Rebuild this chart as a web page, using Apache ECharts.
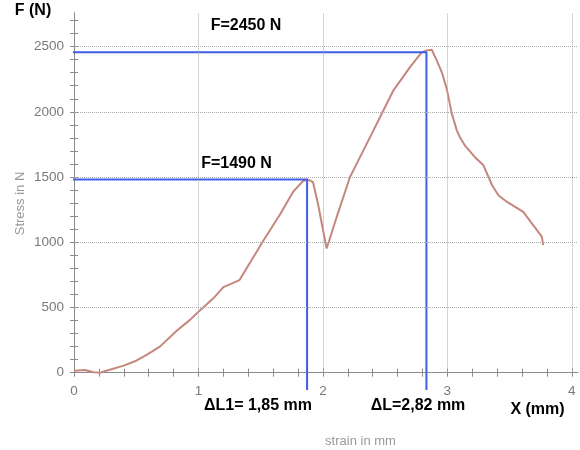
<!DOCTYPE html>
<html>
<head>
<meta charset="utf-8">
<script src="https://cdn.jsdelivr.net/npm/echarts@6/dist/echarts.min.js"></script>
<style>html,body{margin:0;padding:0;background:#fff;}#c{width:580px;height:450px;}</style>
</head>
<body>
<div id="c"></div>
<script>
// ---- data ----
var strain = [0, 0.09, 0.155, 0.21, 0.26, 0.40, 0.50, 0.58, 0.69, 0.83, 0.93, 1.0, 1.12, 1.2, 1.33, 1.52, 1.66, 1.76, 1.84, 1.88, 1.92, 1.96, 2.03, 2.12, 2.218, 2.272, 2.353, 2.46, 2.567, 2.70, 2.795, 2.835, 2.875, 2.915, 2.955, 2.995, 3.036, 3.076, 3.10, 3.14, 3.22, 3.29, 3.36, 3.41, 3.48, 3.61, 3.67, 3.72, 3.76, 3.77];
var stress = [15, 21, 3, 0, 15, 54, 92, 135, 200, 325, 403, 467, 570, 656, 710, 1010, 1220, 1386, 1470, 1481, 1462, 1297, 952, 1220, 1500, 1603, 1756, 1960, 2165, 2343, 2458, 2471, 2476, 2395, 2305, 2178, 1986, 1858, 1807, 1743, 1654, 1590, 1437, 1361, 1309, 1233, 1156, 1093, 1041, 978];
var xTicks = [0, 1, 2, 3, 4];
var yTicks = [0, 500, 1000, 1500, 2000, 2500];
var peakForce = [2457, 1481];
var peakStrain = [2.832, 1.873];
var guideStart = -0.067;
var guideEnd = -132;

var FONT = 'Liberation Sans, Arial, Helvetica, sans-serif';
var chart = echarts.init(document.getElementById('c'), null, {renderer: 'canvas'});

function pairs(xs, ys) { return xs.map(function (x, i) { return [x, ys[i]]; }); }

var axisCol = '#8a8a8a';
function xAx(primary) {
  return {
    type: 'value', min: 0, max: 4.05, interval: 1, position: 'bottom',
    axisLine: {show: primary, onZero: false, lineStyle: {color: axisCol, width: 1}},
    axisTick: {show: true, inside: !primary, length: 4, customValues: xTicks, lineStyle: {color: axisCol}},
    minorTick: {show: true, splitNumber: 5, length: 4, lineStyle: {color: axisCol}},
    axisLabel: {show: primary, customValues: xTicks, margin: 12, color: '#7a7a7a', fontSize: 13.5, fontFamily: FONT,
      formatter: function (v) { return String(v); }},
    splitLine: {show: false}
  };
}
function yAx(primary) {
  return {
    type: 'value', min: 0, max: 2760, interval: 500, position: 'left',
    axisLine: {show: primary, onZero: false, lineStyle: {color: axisCol, width: 1}},
    axisTick: {show: true, inside: !primary, length: 4, customValues: yTicks, lineStyle: {color: axisCol}},
    minorTick: {show: true, splitNumber: 5, length: 4, lineStyle: {color: axisCol}},
    axisLabel: {show: primary, customValues: yTicks, margin: 10, color: '#7a7a7a', fontSize: 13.5, fontFamily: FONT,
      formatter: function (v) { return String(v); }},
    splitLine: {show: false}
  };
}

var gridLines = xTicks.filter(function (v) { return v > 0; }).map(function (v) { return {xAxis: v}; })
  .concat(yTicks.filter(function (v) { return v > 0; }).map(function (v) { return {yAxis: v}; }));

var txt = function (text, x, y, opts) {
  opts = opts || {};
  return {
    type: 'text', x: x, y: y, rotation: opts.rotation || 0, z: 100,
    style: {
      text: text, fill: opts.fill || '#000',
      fontSize: opts.size || 16, fontWeight: opts.weight || 'bold', fontFamily: FONT,
      align: 'center', verticalAlign: 'middle'
    }
  };
};

chart.setOption({
  animation: false,
  backgroundColor: '#fff',
  grid: {left: 74, right: 2, top: 12.7, bottom: 77.3, containLabel: false},
  xAxis: [xAx(true), xAx(false)],
  yAxis: [yAx(true), yAx(false)],
  series: [
    {
      type: 'line', data: [], silent: true, z: 1,
      markLine: {
        silent: true, symbol: ['none', 'none'], label: {show: false},
        lineStyle: {color: '#aaaaaa', type: 'dotted', width: 1},
        emphasis: {disabled: true},
        data: gridLines
      }
    },
    {
      type: 'line', data: pairs(strain, stress), showSymbol: false, symbol: 'none', z: 3,
      lineStyle: {color: '#c4877c', width: 2}, silent: true
    },
    {
      type: 'line', clip: false, showSymbol: false, symbol: 'none', z: 4, silent: true,
      lineStyle: {color: '#3f5ee8', width: 2},
      data: [[guideStart, peakForce[0]], [peakStrain[0], peakForce[0]], [peakStrain[0], guideEnd]]
    },
    {
      type: 'line', clip: false, showSymbol: false, symbol: 'none', z: 4, silent: true,
      lineStyle: {color: '#3f5ee8', width: 2},
      data: [[guideStart, peakForce[1]], [peakStrain[1], peakForce[1]], [peakStrain[1], guideEnd]]
    }
  ],
  graphic: [
    txt('F (N)', 33, 11, {size: 16}),
    txt('F=2450 N', 246, 25.5, {size: 16}),
    txt('F=1490 N', 236.5, 163.5, {size: 16}),
    txt('\u0394L1= 1,85 mm', 258, 406, {size: 16}),
    txt('\u0394L=2,82 mm', 418, 406, {size: 16}),
    txt('X (mm)', 537.5, 410, {size: 16}),
    txt('strain in mm', 360.5, 441, {size: 13, weight: 'normal', fill: '#999'}),
    txt('Stress in N', 20, 203.5, {size: 13, weight: 'normal', fill: '#999', rotation: Math.PI / 2})
  ]
});
</script>
</body>
</html>
